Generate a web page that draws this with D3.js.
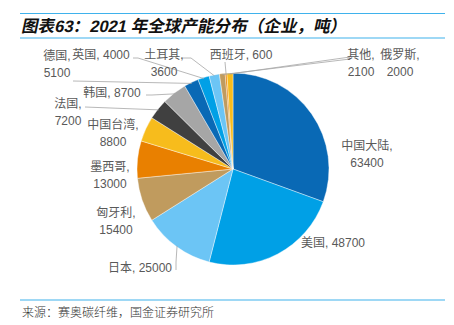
<!DOCTYPE html>
<html lang="zh">
<head>
    <meta charset="UTF-8">
    <title>2021 年全球产能分布</title>
    <script src="https://d3js.org/d3.v7.min.js"></script>
    <style>
        body { margin: 0; background: #fff; }
        .lbl { font-family: "Liberation Sans", "Noto Sans CJK SC", sans-serif; font-size: 12px; fill: #595959; }
        .title { font-family: "Liberation Sans", "Noto Sans CJK SC", sans-serif; font-size: 16.6px; font-weight: bold; fill: #111; }
        .source { font-family: "Noto Sans CJK SC", sans-serif; font-size: 12px; font-weight: 300; fill: #333; }
    </style>
</head>
<body>
<svg width="454" height="325"></svg>

<script>
    // data, clockwise from 12 o'clock
    const names = ["中国大陆", "美国", "日本", "匈牙利", "墨西哥", "中国台湾", "法国", "韩国",
                   "德国", "英国", "土耳其", "俄罗斯", "西班牙", "其他"];
    const values = [63400, 48700, 25000, 15400, 13000, 8800, 7200, 8700,
                    5100, 4000, 3600, 2000, 600, 2100];

    const titleText = "图表63：2021 年全球产能分布（企业，吨）";
    const sourceText = "来源：赛奥碳纤维，国金证券研究所";

    // styles / layout (kept apart from the data)
    const palette = ["#0969B5", "#00A0E6", "#6CC5F5", "#C09B5E", "#E98000", "#F7BC1C", "#404040", "#A6A6A6"];
    // label anchor: x centre, y centre of first line, two lines or one, leader start
    const labelPos = {
        "中国大陆": {x: 367, y: 146, two: true},
        "美国":     {x: 333, y: 243, two: false},
        "日本":     {x: 140, y: 268, two: false, lead: [[176, 270], [176, 262]]},
        "匈牙利":   {x: 116, y: 213, two: true},
        "墨西哥":   {x: 110, y: 167, two: true},
        "中国台湾": {x: 113, y: 125, two: true},
        "法国":     {x: 68,  y: 104, two: true, lead: [[85, 107]]},
        "韩国":     {x: 112, y: 93,  two: false, lead: [[146, 95], [152, 95]]},
        "德国":     {x: 57,  y: 56,  two: true, lead: [[73, 81]]},
        "英国":     {x: 101, y: 55,  two: false, lead: [[133, 58], [138, 58]]},
        "土耳其":   {x: 164, y: 55,  two: true, lead: [[181, 58], [191, 58]]},
        "俄罗斯":   {x: 400, y: 55,  two: true, lead: [[347, 59], [350, 59]]},
        "西班牙":   {x: 241, y: 55,  two: false, lead: [[225, 62]]},
        "其他":     {x: 361, y: 55,  two: true, lead: [[347, 57], [350, 57]]}
    };

    const svg = d3.select("svg");
    const cx = 233, cy = 169, r = 96;

    // title band
    svg.append("line").attr("x1", 20).attr("x2", 445).attr("y1", 13.5).attr("y2", 13.5)
        .attr("stroke", "#3FB2EC").attr("stroke-width", 1.2);
    svg.append("line").attr("x1", 20).attr("x2", 445).attr("y1", 38).attr("y2", 38)
        .attr("stroke", "#3FB2EC").attr("stroke-width", 1.2);
    svg.append("text").attr("class", "title")
        .attr("transform", "translate(21,32) skewX(-12)")
        .text(titleText);

    // footer
    svg.append("line").attr("x1", 20).attr("x2", 445).attr("y1", 300).attr("y2", 300)
        .attr("stroke", "#3FB2EC").attr("stroke-width", 1.2);
    svg.append("text").attr("class", "source").attr("x", 22).attr("y", 317).text(sourceText);

    const pie = d3.pie().sort(null).value(d => d.value);
    const arcs = pie(names.map((n, i) => ({name: n, value: values[i], idx: i})));
    const arc = d3.arc().innerRadius(0).outerRadius(r);

    const g = svg.append("g").attr("transform", `translate(${cx},${cy})`);

    g.selectAll("path")
        .data(arcs)
        .enter()
        .append("path")
        .attr("d", arc)
        .attr("fill", d => palette[d.data.idx % palette.length])
        .attr("stroke", "#fff")
        .attr("stroke-width", 0.4);

    // leader lines from label to the slice edge at mid angle
    const line = d3.line();
    arcs.forEach(function (d) {
        const p = labelPos[d.data.name];
        if (!p.lead) return;
        const a = (d.startAngle + d.endAngle) / 2;
        const edge = [cx + (r - 1) * Math.sin(a), cy - (r - 1) * Math.cos(a)];
        svg.append("path")
            .attr("d", line(p.lead.concat([edge])))
            .attr("fill", "none")
            .attr("stroke", "#A6A6A6")
            .attr("stroke-width", 0.8);
    });

    // labels
    const fmt = d3.format("d");
    arcs.forEach(function (d) {
        const p = labelPos[d.data.name];
        const t = svg.append("text").attr("class", "lbl").attr("text-anchor", "middle");
        if (p.two) {
            t.append("tspan").attr("x", p.x).attr("y", p.y).attr("dominant-baseline", "central")
                .text(d.data.name + ",");
            t.append("tspan").attr("x", p.x).attr("y", p.y + 17).attr("dominant-baseline", "central")
                .text(fmt(d.data.value));
        } else {
            t.append("tspan").attr("x", p.x).attr("y", p.y).attr("dominant-baseline", "central")
                .text(d.data.name + ", " + fmt(d.data.value));
        }
    });
</script>
</body>
</html>
